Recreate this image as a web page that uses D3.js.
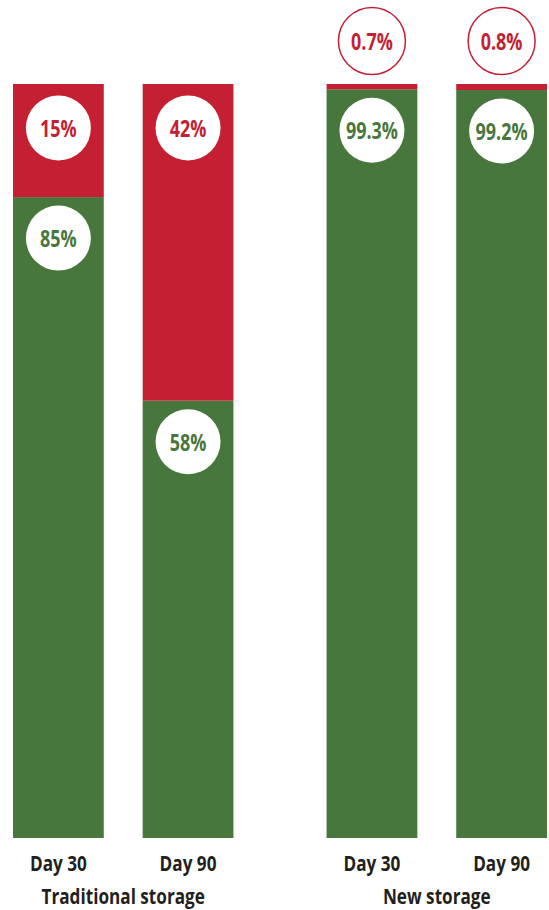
<!DOCTYPE html>
<html>
<head>
<meta charset="utf-8">
<script src="https://cdn.jsdelivr.net/npm/d3@7"></script>
<style>
  body { margin: 0; background: #fff; }
  text { font-family: "Open Sans", "Noto Sans", sans-serif; font-weight: bold; }
</style>
</head>
<body>
<div id="chart"></div>
<script>
(function() {

// data
const groups = ["Traditional storage", "New storage"];
const days = ["Day 30", "Day 90"];
const goodValues = [85, 58, 99.3, 99.2];   // green share, %
const badValues = [15, 42, 0.7, 0.8];      // red share, %

const width = 549, height = 910;
const red = "#c41f33", green = "#48773d", ink = "#231f20";
const squeeze = 0.78; // fake a condensed face

const data = [];
groups.forEach((g, gi) => days.forEach((d, di) => {
  const i = gi * days.length + di;
  data.push({ group: g, day: d, good: goodValues[i], bad: badValues[i] });
}));

const svg = d3.select("#chart")
  .append("svg")
  .attr("width", width)
  .attr("height", height);

// scales
const x0 = d3.scaleBand()
  .domain(groups)
  .range([13, 547])
  .paddingInner(0.297)
  .paddingOuter(0);

const x1 = d3.scaleBand()
  .domain(days)
  .range([0, x0.bandwidth()])
  .paddingInner(0.3)
  .paddingOuter(0);

const y = d3.scaleLinear()
  .domain([0, 100])
  .range([838, 84]);

const bx = d => x0(d.group) + x1(d.day);
const cx = d => bx(d) + x1.bandwidth() / 2;
const place = (fx, fy) => d => `translate(${fx(d)},${fy(d)}) scale(${squeeze},1)`;

const bars = svg.selectAll("g.bar")
  .data(data)
  .join("g")
  .attr("class", "bar");

// green part
bars.append("rect")
  .attr("x", bx)
  .attr("width", x1.bandwidth())
  .attr("y", d => y(d.good))
  .attr("height", d => y(0) - y(d.good))
  .attr("fill", green);

// red part
bars.append("rect")
  .attr("x", bx)
  .attr("width", x1.bandwidth())
  .attr("y", d => y(d.good + d.bad))
  .attr("height", d => y(d.good) - y(d.good + d.bad))
  .attr("fill", red);

const r = 33, off = 43;
const fmt = v => v + "%";

// label bubbles
function bubble(sel, cy, val, color, outside) {
  sel.append("circle")
    .attr("cx", cx)
    .attr("cy", cy)
    .attr("r", d => outside(d) ? 33.5 : 32.5)
    .attr("fill", "#fff")
    .attr("stroke", d => outside(d) ? color : "none")
    .attr("stroke-width", 1.5);
  sel.append("text")
    .attr("transform", place(cx, cy))
    .attr("text-anchor", "middle")
    .attr("dominant-baseline", "central")
    .attr("font-size", 23)
    .attr("fill", color)
    .text(d => fmt(val(d)));
}

const small = d => (y(d.good) - y(d.good + d.bad)) < 2 * r;

bubble(bars,
  d => small(d) ? y(d.good + d.bad) - off : y(d.good + d.bad) + off + 1,
  d => d.bad, red, small);

bubble(bars, d => y(d.good) + off - 2, d => d.good, green, () => false);

// day labels
svg.selectAll("text.day")
  .data(data)
  .join("text")
  .attr("class", "day")
  .attr("transform", place(cx, () => 871))
  .attr("text-anchor", "middle")
  .attr("font-size", 22)
  .attr("fill", ink)
  .text(d => d.day);

// group labels
svg.selectAll("text.group")
  .data(groups)
  .join("text")
  .attr("class", "group")
  .attr("transform", place(g => x0(g) + x0.bandwidth() / 2, () => 904))
  .attr("text-anchor", "middle")
  .attr("font-size", 22)
  .attr("fill", ink)
  .text(g => g);

})();
</script>
</body>
</html>
